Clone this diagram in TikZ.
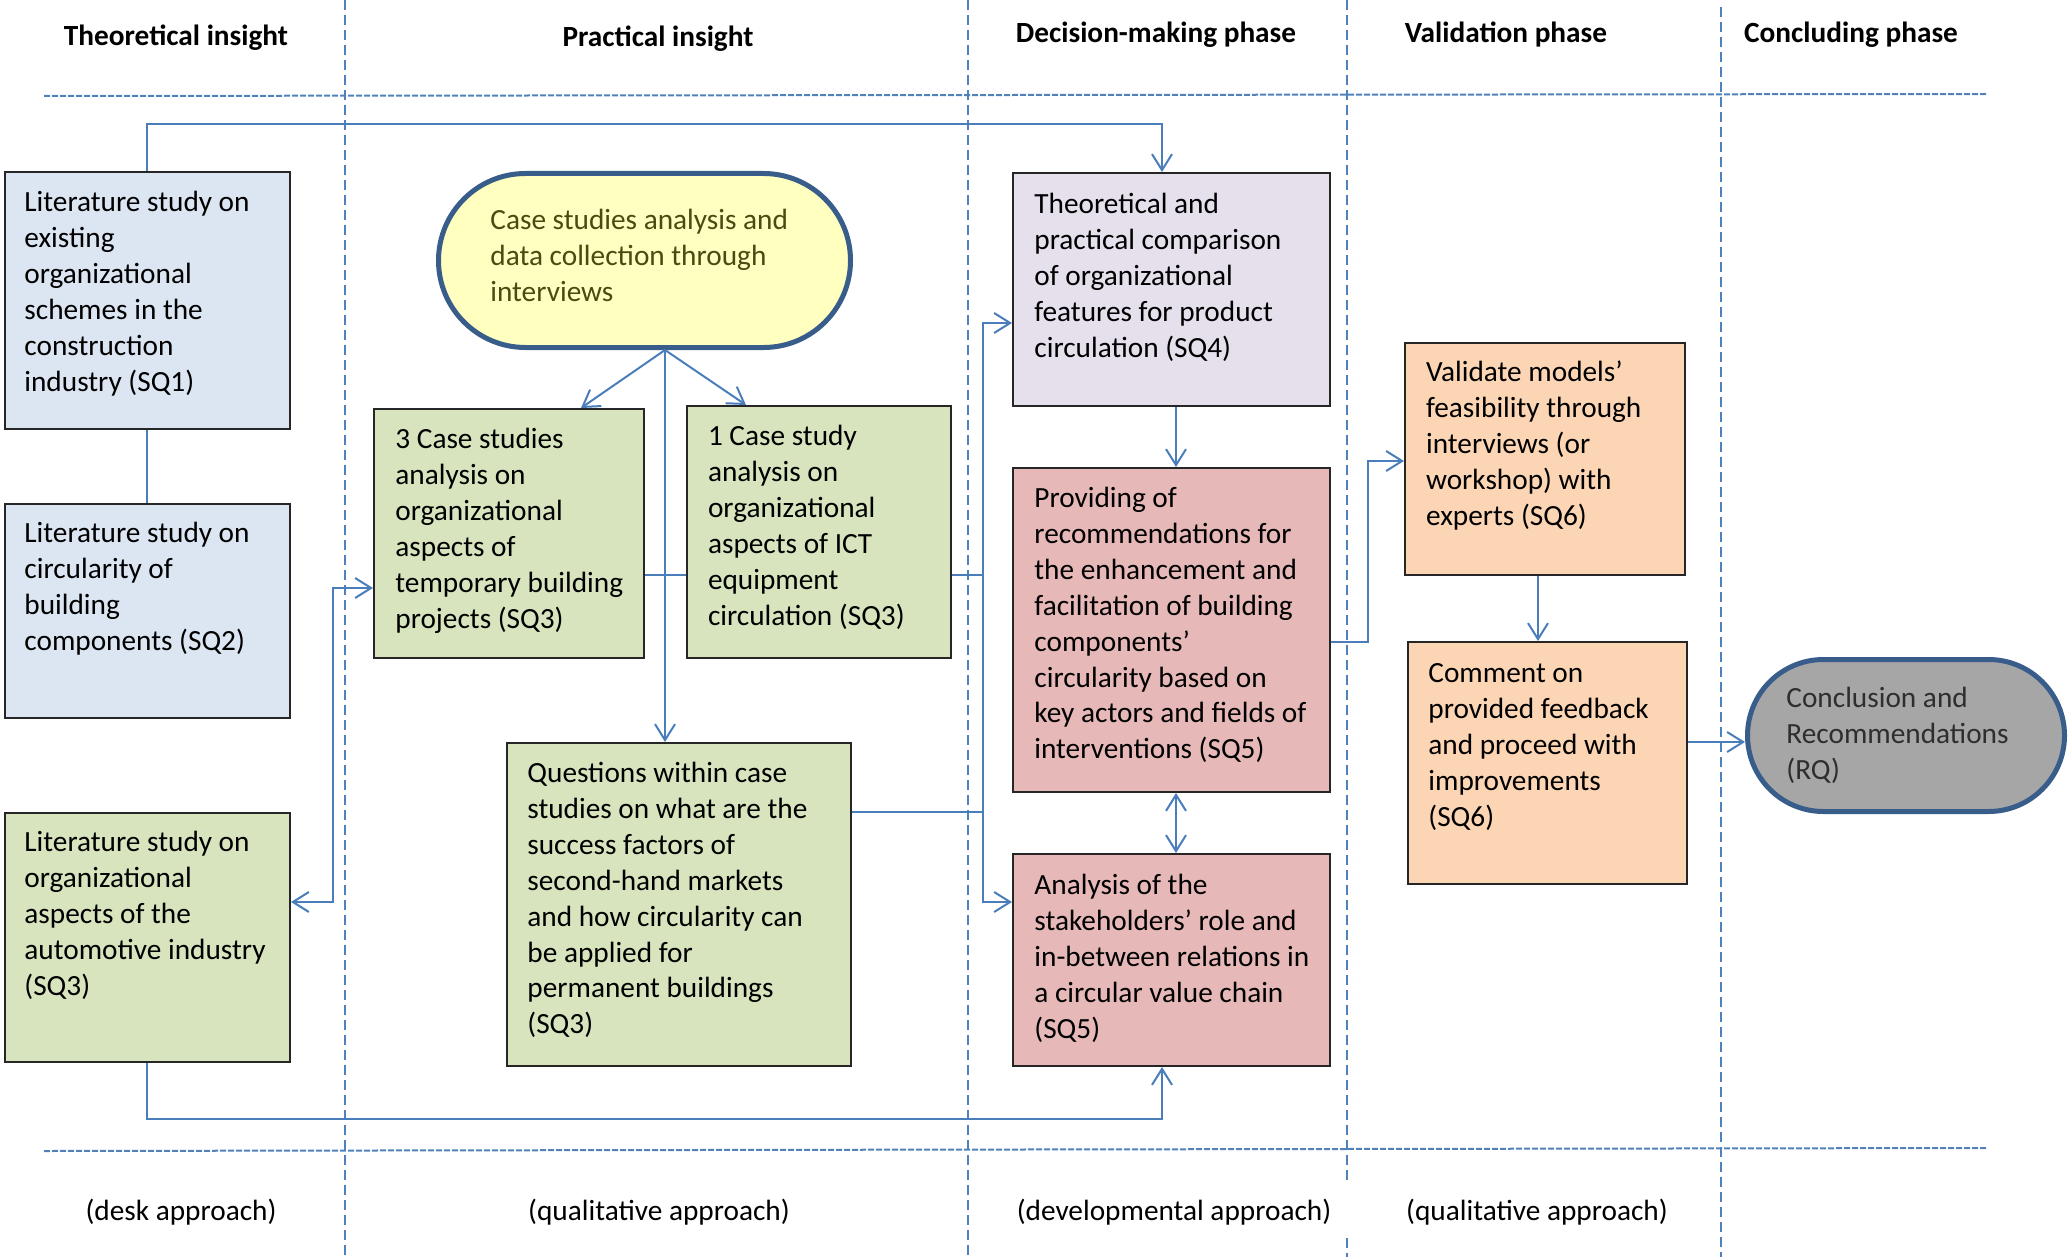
\documentclass[tikz,border=0pt]{standalone}
\usepackage{fontspec}
\setmainfont{Carlito}
\usetikzlibrary{arrows.meta,fit}

\definecolor{lineblue}{HTML}{4A7EBB}
\definecolor{dashblue}{HTML}{4F81BD}
\definecolor{frameblue}{HTML}{385D8A}
\definecolor{fillblue}{HTML}{DCE6F2}
\definecolor{fillgreen}{HTML}{D7E4BD}
\definecolor{fillpurple}{HTML}{E5E0EC}
\definecolor{fillred}{HTML}{E6B9B8}
\definecolor{fillorange}{HTML}{FCD5B5}
\definecolor{fillyellow}{HTML}{FFFFC0}
\definecolor{fillgray}{HTML}{A6A6A6}
\definecolor{olivetext}{HTML}{4A4A12}
\definecolor{graytext}{HTML}{2E2E2E}

\begin{document}
\begin{tikzpicture}[x=0.5pt,y=-0.5pt,
  every node/.style={font=\fontsize{14.65pt}{17.95pt}\selectfont, inner sep=0pt},
  box/.style={draw=black!85, line width=1pt, inner sep=0pt},
  term/.style={draw=frameblue, line width=2.5pt, inner sep=0pt, rounded corners=#1},
  txt/.style={anchor=north west, align=left},
  head/.style={anchor=base, font=\fontsize{14.65pt}{17.95pt}\selectfont\bfseries},
  foot/.style={anchor=base},
  conn/.style={draw=lineblue, line width=1pt},
  arr/.style={conn, -{Straight Barb[length=8pt,width=10pt]}},
  arrboth/.style={conn, {Straight Barb[length=8pt,width=10pt]}-{Straight Barb[length=8pt,width=10pt]}},
  hdash/.style={draw=dashblue, line width=1pt, dash pattern=on 3pt off 1pt},
  vdash/.style={draw=dashblue, line width=0.8pt, dash pattern=on 5pt off 2.5pt},
]
\useasboundingbox (0,0) rectangle (2070,1257);

% column and row separators
\draw[hdash] (44,96) -- (1987,94);
\draw[hdash] (44,1151) -- (1987,1148);
\draw[vdash] (345,0) -- (345,1257);
\draw[vdash] (968,0) -- (968,1257);
\draw[vdash] (1347,0) -- (1347,1180);
\draw[vdash] (1347,1238) -- (1347,1257);
\draw[vdash] (1721,7) -- (1721,1257);

% column headings
\node[head] (hTheo) at (176,46) {Theoretical insight};
\node[head] (hPrac) at (658,47) {Practical insight};
\node[head] (hDec)  at (1156,43) {Decision-making phase};
\node[head] (hVal)  at (1506,43) {Validation phase};
\node[head] (hConc) at (1851,43) {Concluding phase};

% approaches
\node[foot] (fDesk) at (181,1220) {(desk approach)};
\node[foot] (fQual) at (659,1220) {(qualitative approach)};
\node[foot] (fDev)  at (1174,1220) {(developmental approach)};
\node[foot] (fQua2) at (1537,1220) {(qualitative approach)};

% theoretical insight
\node[box, fill=fillblue, fit={(4.6,172) (290,429)}] (bS1) {};
\node[txt] (tS1) at (24,186) {\strut Literature study on\\existing\\organizational\\schemes in the\\construction\\industry (SQ1)};
\node[box, fill=fillblue, fit={(4.6,504) (290,718)}] (bS2) {};
\node[txt] (tS2) at (24,517) {\strut Literature study on\\circularity of\\building\\components (SQ2)};
\node[box, fill=fillgreen, fit={(4.6,813) (290,1062)}] (bAu) {};
\node[txt] (tAu) at (24,826) {\strut Literature study on\\organizational\\aspects of the\\automotive industry\\(SQ3)};

% practical insight
\node[term=43.5pt, fill=fillyellow, fit={(438.5,173.5) (850.5,347.5)}] (ell) {};
\node[txt, text=olivetext] (tEl) at (490,204) {\strut Case studies analysis and\\data collection through\\interviews};
\node[box, fill=fillgreen, fit={(374,409) (644,658)}] (bC3) {};
\node[txt] (tC3) at (395,423) {\strut 3 Case studies\\analysis on\\organizational\\aspects of\\temporary building\\projects (SQ3)};
\node[box, fill=fillgreen, fit={(686.5,406) (950.5,658)}] (bC1) {};
\node[txt] (tC1) at (707.6,420) {\strut 1 Case study\\analysis on\\organizational\\aspects of ICT\\equipment\\circulation (SQ3)};
\node[box, fill=fillgreen, fit={(507,743) (851,1066)}] (bQ) {};
\node[txt] (tQ) at (527,757) {\strut Questions within case\\studies on what are the\\success factors of\\second-hand markets\\and how circularity can\\be applied for\\permanent buildings\\(SQ3)};

% decision-making phase
\node[box, fill=fillpurple, fit={(1013,173) (1330,406)}] (bTh) {};
\node[txt] (tTh) at (1034,188) {\strut Theoretical and\\practical comparison\\of organizational\\features for product\\circulation (SQ4)};
\node[box, fill=fillred, fit={(1013,468) (1330,792)}] (bPr) {};
\node[txt] (tPr) at (1034,482) {\strut Providing of\\recommendations for\\the enhancement and\\facilitation of building\\components’\\circularity based on\\key actors and fields of\\interventions (SQ5)};
\node[box, fill=fillred, fit={(1013,854) (1330,1066)}] (bAn) {};
\node[txt] (tAn) at (1034,869) {\strut Analysis of the\\stakeholders’ role and\\in-between relations in\\a circular value chain\\(SQ5)};

% validation phase
\node[box, fill=fillorange, fit={(1405,343) (1684.5,575)}] (bVa) {};
\node[txt] (tVa) at (1425.7,356) {\strut Validate models’\\feasibility through\\interviews (or\\workshop) with\\experts (SQ6)};
\node[box, fill=fillorange, fit={(1408,642) (1686.5,884)}] (bCo) {};
\node[txt] (tCo) at (1428,657) {\strut Comment on\\provided feedback\\and proceed with\\improvements\\(SQ6)};

% concluding phase
\node[term=38pt, fill=fillgray, fit={(1747.5,659.5) (2064.5,811.5)}] (bCl) {};
\node[txt, text=graytext] (tCl) at (1786,682) {\strut Conclusion and\\Recommendations\\(RQ)};

% helper coordinates for connector bends
\coordinate (topbend) at (1162,124);
\coordinate (botbend) at (1162,1119);
\coordinate (lbU) at (333,588);
\coordinate (lbD) at (333,902);
\coordinate (xE) at (665,0);
\coordinate (xL) at (581,0);
\coordinate (xR) at (746,0);
\coordinate (ymid) at (0,575);
\coordinate (busT) at (983,323);
\coordinate (busB) at (983,902);
\coordinate (yq) at (0,812);
\coordinate (xD) at (1176,0);
\coordinate (vj1) at (1368,642);
\coordinate (vj2) at (1368,461);
\coordinate (xV) at (1538,0);
\coordinate (yC) at (0,742);

% connectors
\draw[arr] (bS1.north) |- (topbend) -- (topbend |- bTh.north);
\draw[conn] (bS1.south) -- (bS2.north);
\draw[arr] (bAu.south) |- (botbend) -- (botbend |- bAn.south);
\draw[arrboth] (lbD -| bAu.east) -- (lbD) -- (lbU) -- (lbU -| bC3.west);

\draw[arr] (xE |- ell.south) -- (xL |- bC3.north);
\draw[arr] (xE |- ell.south) -- (xR |- bC1.north);
\draw[arr] (xE |- ell.south) -- (xE |- bQ.north);
\draw[conn] (bC3.east |- ymid) -- (bC1.west |- ymid);
\draw[conn] (bC1.east |- ymid) -- (busT |- ymid);
\draw[conn] (bQ.east |- yq) -- (busT |- yq);
\draw[arrboth] (busB -| bAn.west) -- (busB) -- (busT) -- (busT -| bTh.west);

\draw[arr] (xD |- bTh.south) -- (xD |- bPr.north);
\draw[arrboth] (xD |- bPr.south) -- (xD |- bAn.north);
\draw[arr] (bPr.east |- vj1) -- (vj1) -- (vj2) -- (vj2 -| bVa.west);
\draw[arr] (xV |- bVa.south) -- (xV |- bCo.north);
\draw[arr] (bCo.east |- yC) -- (bCl.west |- yC);
\end{tikzpicture}
\end{document}
